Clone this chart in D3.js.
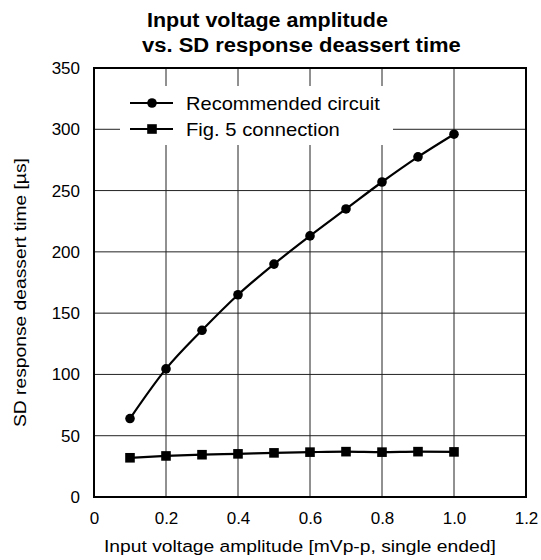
<!DOCTYPE html>
<html><head><meta charset="utf-8">
<script src="https://cdn.jsdelivr.net/npm/d3@7"></script>
<style>body{margin:0;background:#fff}svg{display:block}text{font-family:Arial,"Liberation Sans",Helvetica,sans-serif;fill:#000}</style>
</head><body><svg id="c" width="541" height="560"></svg>
<script>
const xValues = [0.1,0.2,0.3,0.4,0.5,0.6,0.7,0.8,0.9,1.0];
const recommended = [64,104.5,136,165,190,213,235,257,277.5,296];
const fig5 = [32,33.5,34.5,35.2,36,36.6,37,36.6,37,36.8];
const seriesNames = ["Recommended circuit","Fig. 5 connection"];
const xTicks = [0,0.2,0.4,0.6,0.8,1.0,1.2];
const xTickLabels = ["0","0.2","0.4","0.6","0.8","1.0","1.2"];
const yTicks = [0,50,100,150,200,250,300,350];
const titleLines = ["Input voltage amplitude","vs. SD response deassert time"];
const xLabel = "Input voltage amplitude [mVp-p, single ended]";
const yLabel = "SD response deassert time [µs]";

const svg = d3.select("#c");
const L=94,R=526,T=68,B=497;
const x = d3.scaleLinear().domain([0,1.2]).range([L,R]);
const y = d3.scaleLinear().domain([0,350]).range([B,T]);

// text placed with horizontal stretch to a target width
function fitText(str, px, py, size, width, bold, rot){
  const t = svg.append("text").attr("font-size",size).text(str);
  if(bold) t.attr("font-weight","bold");
  const w = t.node().getComputedTextLength();
  const s = width / w;
  t.attr("transform",`translate(${px},${py})${rot?" rotate(-90)":""} scale(${s},1)`);
  return t;
}

// grid
const g = svg.append("g");
g.selectAll(".vg").data(xTicks.slice(1,-1)).join("line")
  .attr("x1",d=>x(d)).attr("x2",d=>x(d)).attr("y1",T).attr("y2",B)
  .attr("stroke","#222").attr("stroke-width",1);
g.selectAll(".hg").data(yTicks.slice(1,-1)).join("line")
  .attr("x1",L).attr("x2",R).attr("y1",d=>y(d)).attr("y2",d=>y(d))
  .attr("stroke","#222").attr("stroke-width",1);

// legend background
svg.append("rect").attr("x",120).attr("y",86).attr("width",273).attr("height",59).attr("fill","#fff");

// frame
svg.append("rect").attr("x",L).attr("y",T).attr("width",R-L).attr("height",B-T)
  .attr("fill","none").attr("stroke","#000").attr("stroke-width",2);

// axes tick labels
const xAxis = d3.axisBottom(x).tickValues(xTicks).tickFormat((d,i)=>xTickLabels[i]).tickSize(0).tickPadding(15);
const xa = svg.append("g").attr("transform",`translate(0,${B})`).call(xAxis);
const yAxis = d3.axisLeft(y).tickValues(yTicks).tickSize(0).tickPadding(14);
const ya = svg.append("g").attr("transform",`translate(${L},0)`).call(yAxis);
[xa,ya].forEach(a=>{a.select(".domain").remove();a.selectAll("text").attr("font-size",17).attr("font-family","Arial, 'Liberation Sans', sans-serif").attr("fill","#000");});

// series
const line = d3.line().x(d=>x(d[0])).y(d=>y(d[1])).curve(d3.curveMonotoneX);
const d1 = xValues.map((v,i)=>[v,recommended[i]]);
const d2 = xValues.map((v,i)=>[v,fig5[i]]);
svg.append("path").attr("d",line(d1)).attr("fill","none").attr("stroke","#000").attr("stroke-width",2.2);
svg.append("path").attr("d",line(d2)).attr("fill","none").attr("stroke","#000").attr("stroke-width",2.2);
svg.selectAll(".c1").data(d1).join("circle").attr("cx",d=>x(d[0])).attr("cy",d=>y(d[1])).attr("r",4.8).attr("fill","#000");
svg.selectAll(".s2").data(d2).join("rect").attr("x",d=>x(d[0])-4.8).attr("y",d=>y(d[1])-4.8).attr("width",9.6).attr("height",9.6).attr("fill","#000");

// legend
const ly=[103,129];
const lw=[194,154];
ly.forEach((yy,i)=>{
  svg.append("line").attr("x1",130).attr("x2",173).attr("y1",yy).attr("y2",yy).attr("stroke","#000").attr("stroke-width",2.2);
  if(i===0) svg.append("circle").attr("cx",152).attr("cy",yy).attr("r",4.8).attr("fill","#000");
  else svg.append("rect").attr("x",152-4.8).attr("y",yy-4.8).attr("width",9.6).attr("height",9.6).attr("fill","#000");
  fitText(seriesNames[i],186,yy+6.5,18,lw[i],false,false);
});

// title
fitText(titleLines[0],147,27,19.5,241,true,false);
fitText(titleLines[1],142,52,19.5,319,true,false);

// axis labels
fitText(xLabel,104,552,17,392,false,false);
fitText(yLabel,26,427,17,269,false,true);
</script></body></html>
